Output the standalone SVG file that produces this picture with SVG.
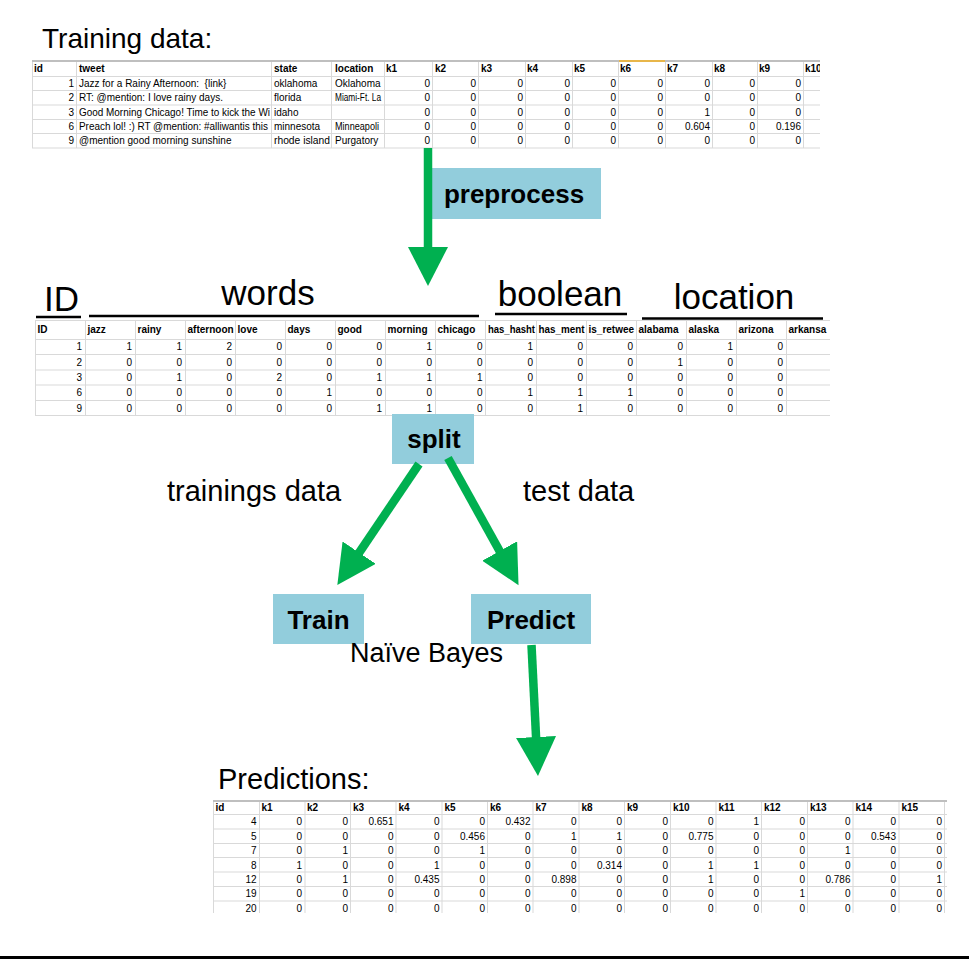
<svg xmlns="http://www.w3.org/2000/svg" width="969" height="961" viewBox="0 0 969 961">
<style>
.h{font:bold 10px "Liberation Sans",Arial,sans-serif;fill:#000}
.c{font:10px "Liberation Sans",Arial,sans-serif;fill:#000}
.n{font:10px "Liberation Sans",Arial,sans-serif;fill:#000;text-anchor:end}
.grid{stroke:#D9D9D9;stroke-width:1;fill:none}
.topb{stroke:#BFBFBF;stroke-width:2;fill:none}
.box{fill:#92CDDC}
.bl{font:bold 26px "Liberation Sans",Arial,sans-serif;fill:#000;text-anchor:middle}
.lbl{font:29px "Liberation Sans",Arial,sans-serif;fill:#000}
.big{font:35px "Liberation Sans",Arial,sans-serif;fill:#000}
.ul{stroke:#000;stroke-width:2.5}
.arrow{stroke:#00B050;stroke-width:8.5;fill:none;marker-end:url(#ah)}
</style>
<defs>
<marker id="ah" viewBox="0 0 40 40" refX="1" refY="20" markerWidth="40" markerHeight="40" markerUnits="userSpaceOnUse" orient="auto"><path d="M0,0 L39,20 L0,40 Z" fill="#00B050"/></marker>
<clipPath id="clipTop"><rect x="30" y="58" width="790" height="92"/></clipPath>
</defs>
<rect width="969" height="961" fill="#fff"/>

<text class="lbl" x="42" y="48" style="font-size:28px">Training data:</text>

<g id="node-training-table" clip-path="url(#clipTop)">
<path class="grid" d="M32.5,61V148 M76.5,61V148 M271.5,61V148 M331.5,61V148 M384.5,61V148 M432.5,61V148 M478.5,61V148 M525.5,61V148 M572.5,61V148 M618.5,61V148 M665.5,61V148 M712.5,61V148 M757.5,61V148 M803.5,61V148 M32,76.5H820 M32,90.5H820 M32,105H820 M32,119.5H820 M32,133.5H820 M32,148H820"/>
<path class="topb" d="M32,61H820"/>
<path d="M619,61H665" stroke="#E8B64A" stroke-width="2"/>
<text class="h" y="72"><tspan x="34">id</tspan><tspan x="79">tweet</tspan><tspan x="274">state</tspan><tspan x="335">location</tspan><tspan x="386">k1</tspan><tspan x="435">k2</tspan><tspan x="481">k3</tspan><tspan x="527">k4</tspan><tspan x="574">k5</tspan><tspan x="620">k6</tspan><tspan x="667">k7</tspan><tspan x="714">k8</tspan><tspan x="759">k9</tspan><tspan x="805">k10</tspan></text>
<text class="c" x="79" y="87">Jazz for a Rainy Afternoon:&#160; {link}</text>
<text class="c" x="79" y="101">RT: @mention: I love rainy days.</text>
<text class="c" x="79" y="115.5" textLength="191" lengthAdjust="spacingAndGlyphs">Good Morning Chicago! Time to kick the Wi</text>
<text class="c" x="79" y="130" textLength="189" lengthAdjust="spacingAndGlyphs">Preach lol! :) RT @mention: #alliwantis this</text>
<text class="c" x="79" y="144">@mention good morning sunshine</text>
<text class="c" x="274" y="87">oklahoma</text>
<text class="c" x="274" y="101">florida</text>
<text class="c" x="274" y="115.5">idaho</text>
<text class="c" x="274" y="130">minnesota</text>
<text class="c" x="274" y="144" textLength="56" lengthAdjust="spacingAndGlyphs">rhode island</text>
<text class="c" x="335" y="87">Oklahoma</text>
<text class="c" x="335" y="101" textLength="46" lengthAdjust="spacingAndGlyphs">Miami-Ft. La</text>
<text class="c" x="335" y="130" textLength="44" lengthAdjust="spacingAndGlyphs">Minneapoli</text>
<text class="c" x="335" y="144">Purgatory</text>
<text class="n" y="87"><tspan x="74">1</tspan><tspan x="430">0</tspan><tspan x="476">0</tspan><tspan x="523">0</tspan><tspan x="570">0</tspan><tspan x="616">0</tspan><tspan x="663">0</tspan><tspan x="710">0</tspan><tspan x="755">0</tspan><tspan x="801">0</tspan></text>
<text class="n" y="101"><tspan x="74">2</tspan><tspan x="430">0</tspan><tspan x="476">0</tspan><tspan x="523">0</tspan><tspan x="570">0</tspan><tspan x="616">0</tspan><tspan x="663">0</tspan><tspan x="710">0</tspan><tspan x="755">0</tspan><tspan x="801">0</tspan></text>
<text class="n" y="115.5"><tspan x="74">3</tspan><tspan x="430">0</tspan><tspan x="476">0</tspan><tspan x="523">0</tspan><tspan x="570">0</tspan><tspan x="616">0</tspan><tspan x="663">0</tspan><tspan x="710">1</tspan><tspan x="755">0</tspan><tspan x="801">0</tspan></text>
<text class="n" y="130"><tspan x="74">6</tspan><tspan x="430">0</tspan><tspan x="476">0</tspan><tspan x="523">0</tspan><tspan x="570">0</tspan><tspan x="616">0</tspan><tspan x="663">0</tspan><tspan x="710">0.604</tspan><tspan x="755">0</tspan><tspan x="801">0.196</tspan></text>
<text class="n" y="144"><tspan x="74">9</tspan><tspan x="430">0</tspan><tspan x="476">0</tspan><tspan x="523">0</tspan><tspan x="570">0</tspan><tspan x="616">0</tspan><tspan x="663">0</tspan><tspan x="710">0</tspan><tspan x="755">0</tspan><tspan x="801">0</tspan></text>
</g>

<g id="node-preprocess">
<rect class="box" x="432" y="168" width="169" height="51"/>
<text class="bl" x="514" y="203">preprocess</text>
</g>

<g id="group-headers">
<text class="big" x="44" y="311">ID</text>
<text class="big" x="268" y="305" text-anchor="middle">words</text>
<text class="big" x="560" y="306" text-anchor="middle">boolean</text>
<text class="big" x="734" y="309" text-anchor="middle">location</text>
<path class="ul" d="M36,317H81 M89,316H479 M495,314H627 M642,318.5H823"/>
</g>

<g id="node-feature-table">
<path class="grid" d="M35.5,320V415.5 M85.5,320V415.5 M135.5,320V415.5 M185.5,320V415.5 M235.5,320V415.5 M285.5,320V415.5 M335.5,320V415.5 M385.5,320V415.5 M435.5,320V415.5 M485.5,320V415.5 M536.5,320V415.5 M586.5,320V415.5 M636.5,320V415.5 M686.5,320V415.5 M736.5,320V415.5 M786.5,320V415.5 M35,339.5H830 M35,354.5H830 M35,370H830 M35,385H830 M35,400.5H830 M35,415.5H830"/>
<path class="grid" d="M35,320.5H830"/>
<text class="h" y="333"><tspan x="37.5">ID</tspan><tspan x="87.5">jazz</tspan><tspan x="137.5">rainy</tspan><tspan x="187.5">afternoon</tspan><tspan x="237.5">love</tspan><tspan x="287.5">days</tspan><tspan x="337.5">good</tspan><tspan x="387.5">morning</tspan><tspan x="437.5">chicago</tspan></text>
<text class="h" x="488" y="333" textLength="47" lengthAdjust="spacingAndGlyphs">has_hasht</text>
<text class="h" x="538.5" y="333" textLength="46" lengthAdjust="spacingAndGlyphs">has_ment</text>
<text class="h" y="333"><tspan x="588.5">is_retwee</tspan><tspan x="638.5">alabama</tspan><tspan x="688.5">alaska</tspan><tspan x="738.5">arizona</tspan><tspan x="788.5">arkansa</tspan></text>
<text class="n" y="350"><tspan x="82">1</tspan><tspan x="132">1</tspan><tspan x="182">1</tspan><tspan x="232">2</tspan><tspan x="282">0</tspan><tspan x="332">0</tspan><tspan x="382">0</tspan><tspan x="432">1</tspan><tspan x="482.5">0</tspan><tspan x="533">1</tspan><tspan x="583">0</tspan><tspan x="633">0</tspan><tspan x="683">0</tspan><tspan x="733">1</tspan><tspan x="783">0</tspan></text>
<text class="n" y="365.5"><tspan x="82">2</tspan><tspan x="132">0</tspan><tspan x="182">0</tspan><tspan x="232">0</tspan><tspan x="282">0</tspan><tspan x="332">0</tspan><tspan x="382">0</tspan><tspan x="432">0</tspan><tspan x="482.5">0</tspan><tspan x="533">0</tspan><tspan x="583">0</tspan><tspan x="633">0</tspan><tspan x="683">1</tspan><tspan x="733">0</tspan><tspan x="783">0</tspan></text>
<text class="n" y="381"><tspan x="82">3</tspan><tspan x="132">0</tspan><tspan x="182">1</tspan><tspan x="232">0</tspan><tspan x="282">2</tspan><tspan x="332">0</tspan><tspan x="382">1</tspan><tspan x="432">1</tspan><tspan x="482.5">1</tspan><tspan x="533">0</tspan><tspan x="583">0</tspan><tspan x="633">0</tspan><tspan x="683">0</tspan><tspan x="733">0</tspan><tspan x="783">0</tspan></text>
<text class="n" y="396"><tspan x="82">6</tspan><tspan x="132">0</tspan><tspan x="182">0</tspan><tspan x="232">0</tspan><tspan x="282">0</tspan><tspan x="332">1</tspan><tspan x="382">0</tspan><tspan x="432">0</tspan><tspan x="482.5">0</tspan><tspan x="533">1</tspan><tspan x="583">1</tspan><tspan x="633">1</tspan><tspan x="683">0</tspan><tspan x="733">0</tspan><tspan x="783">0</tspan></text>
<text class="n" y="411.5"><tspan x="82">9</tspan><tspan x="132">0</tspan><tspan x="182">0</tspan><tspan x="232">0</tspan><tspan x="282">0</tspan><tspan x="332">0</tspan><tspan x="382">1</tspan><tspan x="432">1</tspan><tspan x="482.5">0</tspan><tspan x="533">0</tspan><tspan x="583">1</tspan><tspan x="633">0</tspan><tspan x="683">0</tspan><tspan x="733">0</tspan><tspan x="783">0</tspan></text>
</g>

<g id="node-split">
<rect class="box" x="392" y="414" width="82" height="50"/>
<text class="bl" x="434" y="448">split</text>
</g>
<g id="node-train">
<rect class="box" x="273" y="594" width="91" height="50"/>
<text class="bl" x="318.5" y="629">Train</text>
</g>
<g id="node-predict">
<rect class="box" x="471" y="594" width="120" height="50"/>
<text class="bl" x="531" y="629">Predict</text>
</g>

<g id="labels">
<text class="lbl" x="167" y="501">trainings data</text>
<text class="lbl" x="523" y="501">test data</text>
<text class="lbl" x="350" y="662" style="font-size:27px">Naïve Bayes</text>
<text class="lbl" x="218" y="789">Predictions:</text>
</g>

<g id="connectors">
<line class="arrow" x1="428" y1="148" x2="428" y2="248"/>
<line class="arrow" x1="419" y1="464" x2="358.6" y2="553.5"/>
<line class="arrow" x1="448" y1="458" x2="500.1" y2="551.9"/>
<line class="arrow" x1="531.5" y1="645" x2="536.1" y2="738"/>
</g>

<g id="node-predictions-table">
<path class="grid" d="M213.5,800V913 M259.5,800V913 M305,800V913 M350.5,800V913 M396,800V913 M442,800V913 M487.5,800V913 M533,800V913 M579,800V913 M624.5,800V913 M670.5,800V913 M716,800V913 M761.5,800V913 M807.5,800V913 M853,800V913 M899,800V913 M944.5,800V913 M213,814.5H947 M213,829H947 M213,843.5H947 M213,857.5H947 M213,872H947 M213,886.5H947 M213,901H947"/>
<path class="topb" d="M213,801H947"/>
<text class="h" y="811"><tspan x="215.5">id</tspan><tspan x="261.5">k1</tspan><tspan x="307">k2</tspan><tspan x="353">k3</tspan><tspan x="398.5">k4</tspan><tspan x="444.5">k5</tspan><tspan x="490">k6</tspan><tspan x="535.5">k7</tspan><tspan x="581.5">k8</tspan><tspan x="627">k9</tspan><tspan x="673">k10</tspan><tspan x="718.5">k11</tspan><tspan x="764">k12</tspan><tspan x="810">k13</tspan><tspan x="855.5">k14</tspan><tspan x="901.5">k15</tspan></text>
<text class="n" y="825"><tspan x="256.5">4</tspan><tspan x="302">0</tspan><tspan x="348">0</tspan><tspan x="393.5">0.651</tspan><tspan x="439.5">0</tspan><tspan x="485">0</tspan><tspan x="530.5">0.432</tspan><tspan x="576.5">0</tspan><tspan x="622">0</tspan><tspan x="668">0</tspan><tspan x="713.5">0</tspan><tspan x="759">1</tspan><tspan x="805">0</tspan><tspan x="850.5">0</tspan><tspan x="896">0</tspan><tspan x="942">0</tspan></text>
<text class="n" y="839.5"><tspan x="256.5">5</tspan><tspan x="302">0</tspan><tspan x="348">0</tspan><tspan x="393.5">0</tspan><tspan x="439.5">0</tspan><tspan x="485">0.456</tspan><tspan x="530.5">0</tspan><tspan x="576.5">1</tspan><tspan x="622">1</tspan><tspan x="668">0</tspan><tspan x="713.5">0.775</tspan><tspan x="759">0</tspan><tspan x="805">0</tspan><tspan x="850.5">0</tspan><tspan x="896">0.543</tspan><tspan x="942">0</tspan></text>
<text class="n" y="854"><tspan x="256.5">7</tspan><tspan x="302">0</tspan><tspan x="348">1</tspan><tspan x="393.5">0</tspan><tspan x="439.5">0</tspan><tspan x="485">1</tspan><tspan x="530.5">0</tspan><tspan x="576.5">0</tspan><tspan x="622">0</tspan><tspan x="668">0</tspan><tspan x="713.5">0</tspan><tspan x="759">0</tspan><tspan x="805">0</tspan><tspan x="850.5">1</tspan><tspan x="896">0</tspan><tspan x="942">0</tspan></text>
<text class="n" y="868.5"><tspan x="256.5">8</tspan><tspan x="302">1</tspan><tspan x="348">0</tspan><tspan x="393.5">0</tspan><tspan x="439.5">1</tspan><tspan x="485">0</tspan><tspan x="530.5">0</tspan><tspan x="576.5">0</tspan><tspan x="622">0.314</tspan><tspan x="668">0</tspan><tspan x="713.5">1</tspan><tspan x="759">1</tspan><tspan x="805">0</tspan><tspan x="850.5">0</tspan><tspan x="896">0</tspan><tspan x="942">0</tspan></text>
<text class="n" y="883"><tspan x="256.5">12</tspan><tspan x="302">0</tspan><tspan x="348">1</tspan><tspan x="393.5">0</tspan><tspan x="439.5">0.435</tspan><tspan x="485">0</tspan><tspan x="530.5">0</tspan><tspan x="576.5">0.898</tspan><tspan x="622">0</tspan><tspan x="668">0</tspan><tspan x="713.5">1</tspan><tspan x="759">0</tspan><tspan x="805">0</tspan><tspan x="850.5">0.786</tspan><tspan x="896">0</tspan><tspan x="942">1</tspan></text>
<text class="n" y="897"><tspan x="256.5">19</tspan><tspan x="302">0</tspan><tspan x="348">0</tspan><tspan x="393.5">0</tspan><tspan x="439.5">0</tspan><tspan x="485">0</tspan><tspan x="530.5">0</tspan><tspan x="576.5">0</tspan><tspan x="622">0</tspan><tspan x="668">0</tspan><tspan x="713.5">0</tspan><tspan x="759">0</tspan><tspan x="805">1</tspan><tspan x="850.5">0</tspan><tspan x="896">0</tspan><tspan x="942">0</tspan></text>
<text class="n" y="911.5"><tspan x="256.5">20</tspan><tspan x="302">0</tspan><tspan x="348">0</tspan><tspan x="393.5">0</tspan><tspan x="439.5">0</tspan><tspan x="485">0</tspan><tspan x="530.5">0</tspan><tspan x="576.5">0</tspan><tspan x="622">0</tspan><tspan x="668">0</tspan><tspan x="713.5">0</tspan><tspan x="759">0</tspan><tspan x="805">0</tspan><tspan x="850.5">0</tspan><tspan x="896">0</tspan><tspan x="942">0</tspan></text>
</g>

<rect x="0" y="956" width="969" height="3" fill="#000"/>
</svg>
